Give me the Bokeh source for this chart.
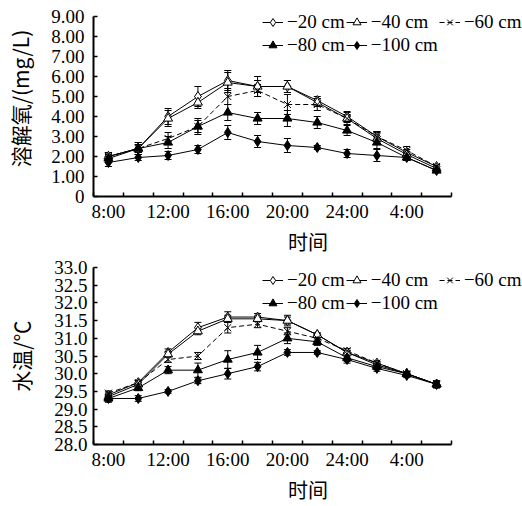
from bokeh.plotting import figure
from bokeh.models import (ColumnDataSource, Whisker, TeeHead, FixedTicker, Legend, LegendItem,
                          NumeralTickFormatter, Range1d)
from bokeh.layouts import column
from bokeh.embed import file_html
from bokeh.resources import INLINE

# ---------------- data ----------------
times = ["8:00", "10:00", "12:00", "14:00", "16:00", "18:00",
         "20:00", "22:00", "24:00", "2:00", "4:00", "6:00"]
labels = ["−20 cm", "−40 cm", "−60 cm", "−80 cm", "−100 cm"]

# dissolved oxygen (mg/L)
do_20 = [2.0, 2.4, 4.0, 5.0, 5.8, 5.5, 5.5, 4.8, 4.0, 3.0, 2.2, 1.5]
do_40 = [2.0, 2.4, 3.9, 4.7, 5.7, 5.5, 5.5, 4.7, 3.9, 2.9, 2.1, 1.4]
do_60 = [2.0, 2.4, 2.9, 3.5, 5.0, 5.3, 4.6, 4.6, 3.9, 3.0, 2.3, 1.5]
do_80 = [1.9, 2.4, 2.7, 3.5, 4.2, 3.9, 3.9, 3.7, 3.3, 2.7, 1.95, 1.3]
do_100 = [1.7, 1.95, 2.05, 2.35, 3.2, 2.75, 2.55, 2.45, 2.15, 2.05, 1.95, 1.3]
do_20_err = [0.2, 0.3, 0.4, 0.5, 0.5, 0.5, 0.3, 0.2, 0.25, 0.25, 0.15, 0.1]
do_40_err = [0.2, 0.3, 0.4, 0.3, 0.5, 0.3, 0.3, 0.2, 0.2, 0.3, 0.15, 0.1]
do_60_err = [0.2, 0.2, 0.3, 0.3, 0.4, 0.3, 0.5, 0.3, 0.3, 0.25, 0.2, 0.1]
do_80_err = [0.2, 0.2, 0.3, 0.4, 0.4, 0.3, 0.4, 0.3, 0.25, 0.3, 0.15, 0.1]
do_100_err = [0.2, 0.15, 0.2, 0.2, 0.35, 0.3, 0.35, 0.1, 0.2, 0.3, 0.15, 0.1]

# water temperature (°C)
wt_20 = [29.4, 29.75, 30.6, 31.3, 31.6, 31.6, 31.5, 31.1, 30.6, 30.3, 30.0, 29.7]
wt_40 = [29.35, 29.7, 30.55, 31.2, 31.55, 31.55, 31.5, 31.1, 30.6, 30.25, 30.0, 29.7]
wt_60 = [29.45, 29.75, 30.4, 30.5, 31.3, 31.4, 31.2, 31.0, 30.65, 30.3, 30.0, 29.7]
wt_80 = [29.3, 29.6, 30.1, 30.1, 30.4, 30.6, 31.0, 30.9, 30.45, 30.2, 30.0, 29.7]
wt_100 = [29.3, 29.3, 29.5, 29.8, 30.0, 30.2, 30.6, 30.6, 30.4, 30.15, 29.95, 29.7]
wt_20_err = [0.08, 0.06, 0.1, 0.15, 0.15, 0.1, 0.1, 0.05, 0.06, 0.05, 0.05, 0.08]
wt_40_err = [0.08, 0.06, 0.08, 0.1, 0.1, 0.08, 0.15, 0.05, 0.06, 0.05, 0.05, 0.08]
wt_60_err = [0.06, 0.06, 0.08, 0.1, 0.15, 0.1, 0.1, 0.05, 0.06, 0.05, 0.05, 0.06]
wt_80_err = [0.1, 0.08, 0.1, 0.2, 0.25, 0.2, 0.15, 0.1, 0.1, 0.08, 0.06, 0.1]
wt_100_err = [0.1, 0.08, 0.05, 0.08, 0.15, 0.12, 0.08, 0.05, 0.1, 0.08, 0.06, 0.1]

x = list(range(len(times)))

SERIF = "Liberation Serif"
CJK = "Noto Sans CJK SC"

styles = [
    dict(marker="diamond", size=10, fill_color="white", dash="solid"),
    dict(marker="triangle", size=9, fill_color="white", dash="solid"),
    dict(marker="x", size=10, fill_color="white", dash="5 3"),
    dict(marker="triangle", size=9, fill_color="black", dash="solid"),
    dict(marker="diamond", size=10, fill_color="black", dash="solid"),
]

# frame spans x=93..522; 12 categories take 358 px of it, the rest is empty
XEND = -0.5 + 429 * 12 / 358.0


def make_fig(series, errs, yrange, ybounds, yticks, height, top, bottom, legend_y,
             ylabel, tick_standoff, ylabel_standoff, overrides=None, fmt=None):
    p = figure(width=522, height=height, output_backend="svg", toolbar_location=None,
               x_range=Range1d(-0.5, XEND), y_range=Range1d(*yrange),
               min_border_left=93, min_border_right=0, min_border_top=top,
               min_border_bottom=bottom)
    p.outline_line_color = None
    p.grid.visible = False
    p.background_fill_color = "white"

    items = []
    for vals, err, st, lab in zip(series, errs, styles, labels):
        src = ColumnDataSource(dict(x=x, y=vals,
                                    upper=[v + e for v, e in zip(vals, err)],
                                    lower=[v - e for v, e in zip(vals, err)]))
        lr = p.line("x", "y", source=src, line_color="black", line_width=1,
                    line_dash=st["dash"])
        w = Whisker(source=src, base="x", upper="upper", lower="lower",
                    line_color="black", line_width=1,
                    upper_head=TeeHead(size=7, line_width=1, line_color="black"),
                    lower_head=TeeHead(size=7, line_width=1, line_color="black"))
        p.add_layout(w)
        sr = p.scatter("x", "y", source=src, marker=st["marker"], size=st["size"],
                       fill_color=st["fill_color"], line_color="black", line_width=1)
        items.append(LegendItem(label=lab, renderers=[lr, sr]))

    leg = Legend(items=items, location=(169, legend_y), orientation="horizontal",
                 ncols=3, padding=0, margin=0, spacing=1, label_standoff=4,
                 glyph_width=21, glyph_height=20, label_height=20,
                 border_line_color=None, background_fill_alpha=0,
                 label_text_font=SERIF, label_text_font_size="19px",
                 label_text_color="black")
    p.add_layout(leg)

    # x axis
    xa = p.xaxis[0]
    xa.bounds = (-0.5, 11.5)
    xa.ticker = FixedTicker(ticks=[0, 2, 4, 6, 8, 10],
                            minor_ticks=[i - 0.5 for i in range(13)])
    xa.major_label_overrides = {i: times[i] for i in range(0, 12, 2)}
    xa.major_tick_in = 0
    xa.major_tick_out = 0
    xa.minor_tick_in = 4
    xa.minor_tick_out = 0
    xa.minor_tick_line_width = 1.5
    xa.axis_line_width = 2
    xa.major_label_text_font = SERIF
    xa.major_label_text_font_size = "19px"
    xa.major_label_text_color = "black"
    xa.major_label_standoff = 4
    xa.axis_label = "时间"
    xa.axis_label_text_font = CJK
    xa.axis_label_text_font_size = "20px"
    xa.axis_label_text_font_style = "normal"
    xa.axis_label_text_color = "black"
    xa.axis_label_standoff = 2

    ya = p.yaxis[0]
    ya.bounds = ybounds
    ya.ticker = FixedTicker(ticks=yticks, minor_ticks=[])
    if fmt:
        ya.formatter = NumeralTickFormatter(format=fmt)
    if overrides:
        ya.major_label_overrides = overrides
    ya.major_tick_in = 4
    ya.major_tick_out = 0
    ya.major_tick_line_width = 1.5
    ya.axis_line_width = 2
    ya.major_label_text_font = SERIF
    ya.major_label_text_font_size = "19px"
    ya.major_label_text_color = "black"
    ya.major_label_standoff = tick_standoff
    ya.axis_label = ylabel
    ya.axis_label_text_font = CJK
    ya.axis_label_text_font_size = "21px"
    ya.axis_label_text_font_style = "normal"
    ya.axis_label_text_color = "black"
    ya.axis_label_standoff = ylabel_standoff
    return p


do_ticks = list(range(0, 10))
do_over = {0: "0"}
for t in range(1, 10):
    do_over[t] = "%.2f" % t

# top frame: 196 px tall, 0..9 occupies the lower 180 px (20 px per unit)
p1 = make_fig([do_20, do_40, do_60, do_80, do_100],
              [do_20_err, do_40_err, do_60_err, do_80_err, do_100_err],
              (0, 9.8), (0, 9), do_ticks, 258, 0, 62, 140, "溶解氧/(mg/L)",
              tick_standoff=9, ylabel_standoff=13, overrides=do_over)

wt_ticks = [28 + 0.5 * i for i in range(11)]
p2 = make_fig([wt_20, wt_40, wt_60, wt_80, wt_100],
              [wt_20_err, wt_40_err, wt_60_err, wt_80_err, wt_100_err],
              (28, 33), (28, 33), wt_ticks, 248, 9, 61, 130, "水温/℃",
              tick_standoff=6, ylabel_standoff=15, fmt="0.0")

layout = column(p1, p2, spacing=0)
open("out.html", "w").write(file_html(layout, INLINE))
